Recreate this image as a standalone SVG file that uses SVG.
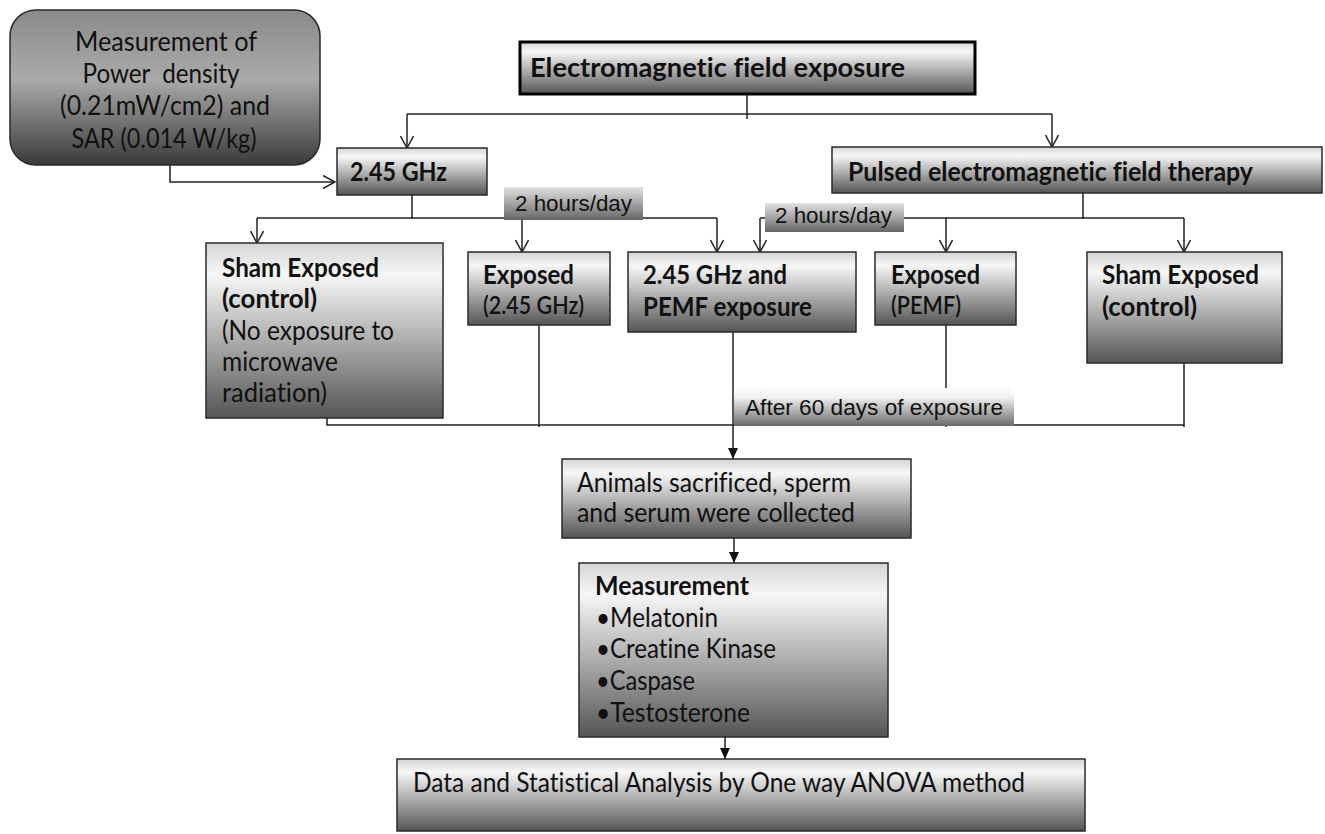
<svg xmlns="http://www.w3.org/2000/svg" width="1325" height="834" viewBox="0 0 1325 834">
<style>
.bx{stroke:#2a2a2a;stroke-width:1.5;fill:url(#gBox)}
.t{font-family:Lato,"Open Sans","Liberation Sans",sans-serif;font-size:26px;fill:#111;font-variant-ligatures:none}
.b{font-weight:bold}
.a{font-family:"Liberation Sans",Arial,sans-serif;font-size:22.5px;fill:#111}
.ln{stroke:#222;stroke-width:1.5;fill:none}
.oa{marker-end:url(#open)}
.fa{marker-end:url(#fill)}
</style>
<defs>
<linearGradient id="gBox" x1="0" y1="0" x2="0" y2="1">
<stop offset="0" stop-color="#d4d4d4"/><stop offset="0.18" stop-color="#f7f7f7"/><stop offset="1" stop-color="#555"/>
</linearGradient>
<linearGradient id="gTL" x1="0" y1="0" x2="0" y2="1">
<stop offset="0" stop-color="#8a8a8a"/><stop offset="0.45" stop-color="#aaaaaa"/><stop offset="1" stop-color="#3a3a3a"/>
</linearGradient>
<linearGradient id="gLbl" x1="0" y1="0" x2="0" y2="1">
<stop offset="0" stop-color="#e2e2e2"/><stop offset="1" stop-color="#666"/>
</linearGradient>
<linearGradient id="gLbl2" x1="0" y1="0" x2="0" y2="1">
<stop offset="0" stop-color="#fcfcfc"/><stop offset="0.25" stop-color="#f0f0f0"/><stop offset="1" stop-color="#6a6a6a"/>
</linearGradient>
<marker id="open" viewBox="0 0 14 14" refX="13" refY="7" markerWidth="14" markerHeight="14" markerUnits="userSpaceOnUse" orient="auto">
<path d="M1,0.5 L13,7 L1,13.5" fill="none" stroke="#222" stroke-width="1.5"/>
</marker>
<marker id="fill" viewBox="0 0 11 10" refX="11" refY="5" markerWidth="11" markerHeight="10" markerUnits="userSpaceOnUse" orient="auto">
<path d="M0,0 L11,5 L0,10 z" fill="#111"/>
</marker>
</defs>
<rect width="1325" height="834" fill="#fff"/>

<g id="connectors">
<path class="ln oa" d="M170,165 V182 H335"/>
<path class="ln" d="M747,95 V119"/>
<path class="ln" d="M407,114 H1052"/>
<path class="ln oa" d="M407,114 V148"/>
<path class="ln oa" d="M1052,114 V147"/>
<path class="ln" d="M412,195 V219"/>
<path class="ln" d="M257,218 H717"/>
<path class="ln oa" d="M257,218 V243"/>
<path class="ln oa" d="M522,218 V252"/>
<path class="ln oa" d="M717,218 V252"/>
<path class="ln" d="M1083,193 V219"/>
<path class="ln" d="M760,218 H1184"/>
<path class="ln oa" d="M760,218 V252"/>
<path class="ln oa" d="M946,218 V252"/>
<path class="ln oa" d="M1184,218 V252"/>
<path class="ln" d="M327,418 V425 H1184"/>
<path class="ln" d="M539,325 V427"/>
<path class="ln" d="M946,325 V427"/>
<path class="ln" d="M1184,363 V427"/>
<path class="ln fa" d="M733,332 V459"/>
<path class="ln fa" d="M734,538 V563"/>
<path class="ln fa" d="M725,732 V759"/>
</g>

<g id="measure-power">
<rect x="10" y="10" width="310" height="155" rx="26" fill="url(#gTL)" stroke="#2a2a2a" stroke-width="1.5"/>
<text class="t" x="166" y="51" text-anchor="middle" textLength="182" lengthAdjust="spacingAndGlyphs">Measurement of</text>
<text class="t" x="161" y="83" text-anchor="middle" textLength="157" lengthAdjust="spacingAndGlyphs" xml:space="preserve">Power  density</text>
<text class="t" x="165" y="115" text-anchor="middle" textLength="210" lengthAdjust="spacingAndGlyphs">(0.21mW/cm2) and</text>
<text class="t" x="164" y="148" text-anchor="middle" textLength="185" lengthAdjust="spacingAndGlyphs">SAR (0.014 W/kg)</text>
</g>

<g id="emf">
<rect x="520" y="42" width="455" height="52" fill="url(#gBox)" stroke="#000" stroke-width="3"/>
<text class="t b" x="530" y="77" textLength="375" lengthAdjust="spacingAndGlyphs">Electromagnetic field exposure</text>
</g>

<g id="ghz">
<rect class="bx" x="337" y="148" width="150" height="47"/>
<text class="t b" x="350" y="181" textLength="97" lengthAdjust="spacingAndGlyphs">2.45 GHz</text>
</g>

<g id="pemf">
<rect class="bx" x="832" y="147" width="490" height="46"/>
<text class="t b" x="848" y="181" textLength="405" lengthAdjust="spacingAndGlyphs">Pulsed electromagnetic field therapy</text>
</g>

<g id="label-2h-a">
<rect x="504" y="187" width="139" height="33" fill="url(#gLbl)"/>
<text class="a" x="515" y="211" textLength="117" lengthAdjust="spacingAndGlyphs">2 hours/day</text>
</g>

<g id="label-2h-b">
<rect x="765" y="203" width="139" height="29" fill="url(#gLbl)"/>
<text class="a" x="775" y="223" textLength="117" lengthAdjust="spacingAndGlyphs">2 hours/day</text>
</g>

<g id="sham-left">
<rect class="bx" x="206" y="243" width="237" height="175"/>
<text class="t b" x="222" y="277" textLength="157" lengthAdjust="spacingAndGlyphs">Sham Exposed</text>
<text class="t b" x="222" y="308" textLength="95" lengthAdjust="spacingAndGlyphs">(control)</text>
<text class="t" x="222" y="340" textLength="172" lengthAdjust="spacingAndGlyphs">(No exposure to</text>
<text class="t" x="222" y="371" textLength="116" lengthAdjust="spacingAndGlyphs">microwave</text>
<text class="t" x="222" y="402" textLength="105" lengthAdjust="spacingAndGlyphs">radiation)</text>
</g>

<g id="exposed-ghz">
<rect class="bx" x="468" y="252" width="142" height="73"/>
<text class="t b" x="483" y="284" textLength="91" lengthAdjust="spacingAndGlyphs">Exposed</text>
<text class="t" x="483" y="314" style="font-size:24px;font-weight:600" textLength="101" lengthAdjust="spacingAndGlyphs">(2.45 GHz)</text>
</g>

<g id="combined">
<rect class="bx" x="628" y="252" width="228" height="80"/>
<text class="t b" x="643" y="284" textLength="144" lengthAdjust="spacingAndGlyphs">2.45 GHz and</text>
<text class="t b" x="643" y="316" textLength="169" lengthAdjust="spacingAndGlyphs">PEMF exposure</text>
</g>

<g id="exposed-pemf">
<rect class="bx" x="875" y="252" width="141" height="73"/>
<text class="t b" x="891" y="284" textLength="89" lengthAdjust="spacingAndGlyphs">Exposed</text>
<text class="t" x="891" y="314" style="font-size:24px;font-weight:600" textLength="70" lengthAdjust="spacingAndGlyphs">(PEMF)</text>
</g>

<g id="sham-right">
<rect class="bx" x="1087" y="252" width="195" height="111"/>
<text class="t b" x="1102" y="284" textLength="157" lengthAdjust="spacingAndGlyphs">Sham Exposed</text>
<text class="t b" x="1102" y="316" textLength="95" lengthAdjust="spacingAndGlyphs">(control)</text>
</g>

<g id="label-60">
<rect x="734" y="388" width="280" height="38" fill="url(#gLbl2)"/>
<text class="a" x="745" y="415" textLength="258" lengthAdjust="spacingAndGlyphs">After 60 days of exposure</text>
</g>

<g id="animals">
<rect class="bx" x="562" y="459" width="349" height="79"/>
<text class="t" x="577" y="492" textLength="274" lengthAdjust="spacingAndGlyphs">Animals sacrificed, sperm</text>
<text class="t" x="577" y="522" textLength="278" lengthAdjust="spacingAndGlyphs">and serum were collected</text>
</g>

<g id="measurement">
<rect class="bx" x="579" y="563" width="309" height="174"/>
<text class="t b" x="595" y="595" textLength="154" lengthAdjust="spacingAndGlyphs">Measurement</text>
<text class="t" x="596" y="627" textLength="122" lengthAdjust="spacingAndGlyphs">•Melatonin</text>
<text class="t" x="596" y="658" textLength="180" lengthAdjust="spacingAndGlyphs">•Creatine Kinase</text>
<text class="t" x="596" y="690" textLength="99" lengthAdjust="spacingAndGlyphs">•Caspase</text>
<text class="t" x="596" y="722" textLength="154" lengthAdjust="spacingAndGlyphs">•Testosterone</text>
</g>

<g id="analysis">
<rect class="bx" x="397" y="759" width="688" height="72"/>
<text class="t" x="413" y="792" textLength="612" lengthAdjust="spacingAndGlyphs">Data and Statistical Analysis by One way ANOVA method</text>
</g>
</svg>
